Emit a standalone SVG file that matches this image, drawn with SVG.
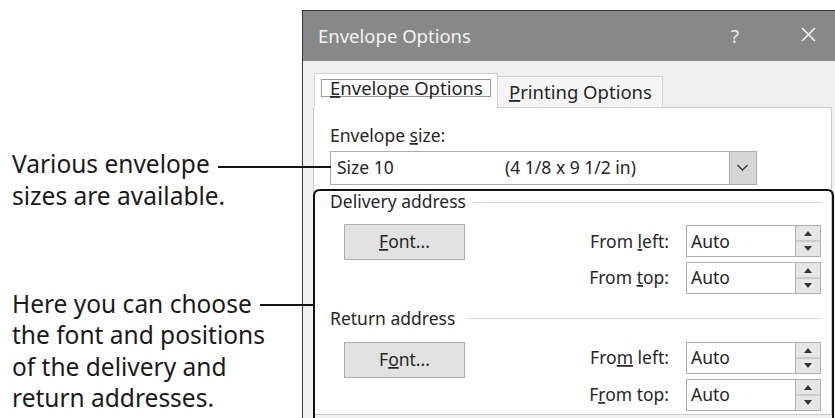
<svg xmlns="http://www.w3.org/2000/svg" width="835" height="418" viewBox="0 0 835 418">
<defs>
<style>
.ui{font-family:"Noto Sans","Open Sans","DejaVu Sans",sans-serif;font-size:17.5px;fill:#262626}
.tab{font-family:"Noto Sans","Open Sans","DejaVu Sans",sans-serif;font-size:18.5px;fill:#262626}
.call{font-family:"Noto Sans","DejaVu Sans",sans-serif;font-size:24.5px;fill:#1a1a1a}
.u{text-decoration:underline}
.btn{fill:#e1e1e1;stroke:#adadad;stroke-width:1}
.box{fill:#ffffff;stroke:#adadad;stroke-width:1}
.spin{fill:#e6e6e6;stroke:#adadad;stroke-width:1}
.sep{stroke:#dadada;stroke-width:1}
.con{stroke:#111;stroke-width:2;fill:none}
.tri{fill:#333}
</style>
</defs>
<rect width="835" height="418" fill="#ffffff"/>

<g id="dialog">
  <rect x="302.5" y="10.5" width="540" height="420" fill="#f0f0f0" stroke="#3a3a3a" stroke-width="1"/>
  <rect x="303" y="11" width="532" height="50" fill="#888888"/>
  <text class="tab" x="318" y="43" style="fill:#f4f4f4">Envelope Options</text>
  <text class="tab" x="735" y="43" style="fill:#eeeeee" text-anchor="middle" font-size="19">?</text>
  <path d="M802 28 L815 41 M815 28 L802 41" stroke="#f4f4f4" stroke-width="1.6" fill="none"/>
  <rect x="313.5" y="107.5" width="518" height="307" fill="#ffffff" stroke="#c8c8c8" stroke-width="1"/>
</g>

<g id="tab-printing">
  <rect x="497.5" y="76.5" width="165" height="31" fill="#f5f5f5" stroke="#d0d0d0" stroke-width="1"/>
  <text class="tab" x="509" y="99"><tspan class="u">P</tspan>rinting Options</text>
</g>

<g id="tab-envelope">
  <rect x="314.5" y="73.5" width="183" height="34" fill="#ffffff" stroke="#d0d0d0" stroke-width="1"/>
  <rect x="314" y="106" width="183" height="3" fill="#ffffff"/>
  <rect x="321.5" y="79.5" width="169" height="17" fill="none" stroke="#333" stroke-width="1" stroke-dasharray="1,1"/>
  <text class="tab" x="330" y="95"><tspan class="u">E</tspan>nvelope Options</text>
</g>

<g id="envelope-size">
  <text class="ui" x="330" y="142">Envelope <tspan class="u">s</tspan>ize:</text>
  <rect class="box" x="330.5" y="151.5" width="426" height="33"/>
  <text class="ui" x="337" y="174">Size 10</text>
  <text class="ui" x="505" y="174" font-size="17">(4 1/8 x 9 1/2 in)</text>
  <rect x="729.5" y="151.5" width="27" height="33" fill="#d6d6d6" stroke="#adadad" stroke-width="1"/>
  <path d="M737.5 165 L742.5 170 L747.5 165" stroke="#333" stroke-width="1.3" fill="none"/>
</g>

<g id="delivery-address">
  <text class="ui" x="330" y="208">Delivery address</text>
  <line class="sep" x1="473" y1="202.5" x2="822" y2="202.5"/>
  <rect class="btn" x="344.5" y="224.5" width="120" height="35"/>
  <text class="ui" x="404.5" y="248" text-anchor="middle"><tspan class="u">F</tspan>ont...</text>
  <text class="ui" x="669" y="248" text-anchor="end">From <tspan class="u">l</tspan>eft:</text>
  <rect class="box" x="686.5" y="225.5" width="134" height="31"/>
  <text class="ui" x="691" y="248">Auto</text>
  <rect class="spin" x="795.5" y="225.5" width="25" height="31"/>
  <line x1="796" y1="241" x2="820" y2="241" stroke="#adadad"/>
  <path class="tri" d="M804 236 L808 231 L812 236 Z M804 246 L808 251 L812 246 Z"/>
  <text class="ui" x="669" y="284" text-anchor="end">From <tspan class="u">t</tspan>op:</text>
  <rect class="box" x="686.5" y="262.5" width="134" height="31"/>
  <text class="ui" x="691" y="284">Auto</text>
  <rect class="spin" x="795.5" y="262.5" width="25" height="31"/>
  <line x1="796" y1="278" x2="820" y2="278" stroke="#adadad"/>
  <path class="tri" d="M804 273 L808 268 L812 273 Z M804 283 L808 288 L812 283 Z"/>
</g>

<g id="return-address">
  <text class="ui" x="330" y="325">Return address</text>
  <line class="sep" x1="466" y1="318.5" x2="822" y2="318.5"/>
  <rect class="btn" x="344.5" y="342.5" width="120" height="35"/>
  <text class="ui" x="404.5" y="366" text-anchor="middle">F<tspan class="u">o</tspan>nt...</text>
  <text class="ui" x="669" y="364" text-anchor="end">Fro<tspan class="u">m</tspan> left:</text>
  <rect class="box" x="686.5" y="342.5" width="134" height="31"/>
  <text class="ui" x="691" y="364">Auto</text>
  <rect class="spin" x="795.5" y="342.5" width="25" height="31"/>
  <line x1="796" y1="358" x2="820" y2="358" stroke="#adadad"/>
  <path class="tri" d="M804 353 L808 348 L812 353 Z M804 363 L808 368 L812 363 Z"/>
  <text class="ui" x="669" y="401" text-anchor="end">F<tspan class="u">r</tspan>om top:</text>
  <rect class="box" x="686.5" y="379.5" width="134" height="31"/>
  <text class="ui" x="691" y="401">Auto</text>
  <rect class="spin" x="795.5" y="379.5" width="25" height="31"/>
  <line x1="796" y1="395" x2="820" y2="395" stroke="#adadad"/>
  <path class="tri" d="M804 390 L808 385 L812 390 Z M804 400 L808 405 L812 400 Z"/>
</g>

<g id="callout-sizes">
  <text class="call" x="12" y="173">Various envelope</text>
  <text class="call" x="12" y="205">sizes are available.</text>
</g>

<g id="callout-addresses">
  <text class="call" x="12" y="313">Here you can choose</text>
  <text class="call" x="12" y="344">the font and positions</text>
  <text class="call" x="12" y="376">of the delivery and</text>
  <text class="call" x="12" y="407">return addresses.</text>
</g>

<g id="connectors">
  <line class="con" x1="218" y1="167" x2="331" y2="167"/>
  <line class="con" x1="260" y1="305" x2="313" y2="305"/>
  <path class="con" d="M314 420 L314 196 Q314 190 320 190 L827 190 Q833 190 833 196 L833 420"/>
</g>
</svg>
